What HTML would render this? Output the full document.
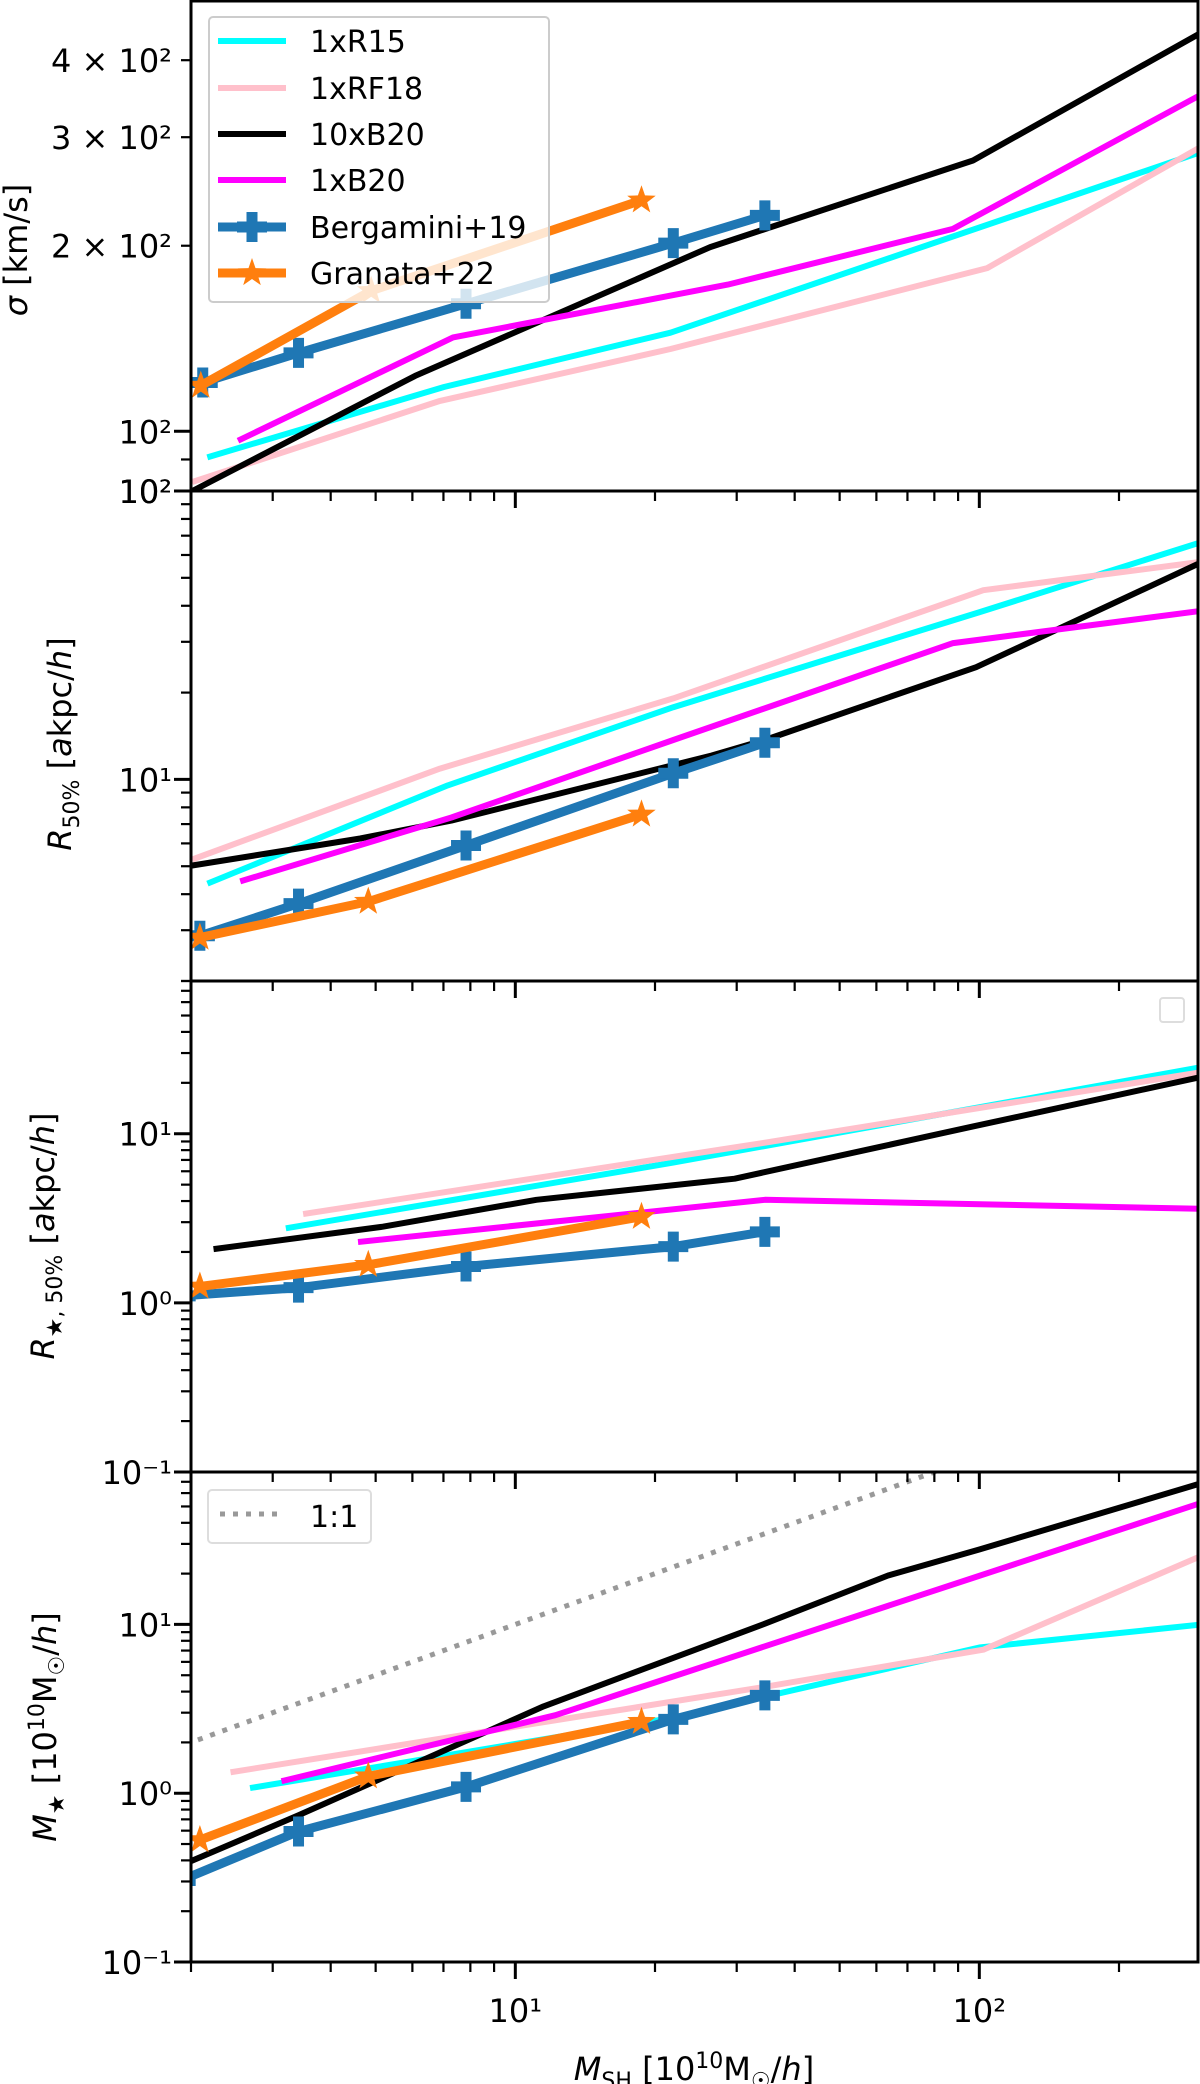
<!DOCTYPE html>
<html><head><meta charset="utf-8"><style>
html,body{margin:0;padding:0;background:#fff;}
svg{display:block;font-family:"DejaVu Sans","Liberation Sans",sans-serif;}
</style></head><body>
<svg id="chart" width="1200" height="2084" viewBox="0 0 1200 2084" xmlns="http://www.w3.org/2000/svg">
<defs>
<clipPath id="c0"><rect x="191" y="1" width="1008" height="490"/></clipPath>
<clipPath id="c1"><rect x="191" y="491" width="1008" height="490"/></clipPath>
<clipPath id="c2"><rect x="191" y="981" width="1008" height="491"/></clipPath>
<clipPath id="c3"><rect x="191" y="1472" width="1008" height="490"/></clipPath>
</defs>
<g id="marks"></g>
<g id="axes"></g>
<g id="legends"></g>
</svg>
<script>
// ---- data (x = M_SH) ----
const seriesNames = ["1xR15","1xRF18","10xB20","1xB20","Bergamini+19","Granata+22"];
const xTickLabels = ["10\u00b9","10\u00b2"];
const xTickValues = [10,100];
// panel 1: sigma
const p1_R15_x=[2.20,7.02,21.6,297];              const p1_R15_y=[91,118,144.5,283];
const p1_RF18_x=[2.04,6.88,21.6,104,297];         const p1_RF18_y=[83,112,136,184,288];
const p1_B20x10_x=[2.0,6.08,26.3,96.9,297];       const p1_B20x10_y=[79.8,123,199,275,441];
const p1_B20_x=[2.56,7.34,28.7,87.7,297];         const p1_B20_y=[97,142,173,213,350];
const p1_Berg_x=[2.12,3.41,7.83,21.9,34.5];       const p1_Berg_y=[120,134,161,202,224];
const p1_Gran_x=[2.10,4.89,18.7];                 const p1_Gran_y=[118.6,169,237];
// panel 2: R50%
const p2_R15_x=[2.2,7.15,21.9,100,297];           const p2_R15_y=[4.39,9.53,17.8,38,66];
const p2_RF18_x=[2.04,6.88,21.9,102,297];         const p2_RF18_y=[5.32,10.9,19.1,45.3,56.7];
const p2_B20x10_x=[2.0,4.63,7.28,26.5,34.5,98.4,297]; const p2_B20x10_y=[5.02,6.24,7.2,12.1,13.7,24.5,56];
const p2_B20_x=[2.59,7.28,21.9,87.8,297];         const p2_B20_y=[4.46,7.38,13.7,29.7,38.3];
const p2_Berg_x=[2.09,3.41,7.83,21.9,34.5];       const p2_Berg_y=[2.87,3.71,5.9,10.5,13.4];
const p2_Gran_x=[2.09,4.82,18.7];                 const p2_Gran_y=[2.83,3.77,7.56];
// panel 3: R*,50%
const p3_R15_x=[3.25,21.9,297];                   const p3_R15_y=[2.78,6.75,24.6];
const p3_RF18_x=[3.54,34.5,297];                  const p3_RF18_y=[3.37,8.85,23.0];
const p3_B20x10_x=[2.27,5.18,11.1,29.7,96.4,297]; const p3_B20x10_y=[2.09,2.82,4.07,5.42,11.0,21.5];
const p3_B20_x=[4.65,34.5,297];                   const p3_B20_y=[2.30,4.07,3.60];
const p3_Berg_x=[1.9,3.41,7.83,21.9,34.5];        const p3_Berg_y=[1.10,1.23,1.64,2.15,2.63];
const p3_Gran_x=[2.09,4.82,18.7];                 const p3_Gran_y=[1.25,1.68,3.23];
// panel 4: M*
const p4_R15_x=[2.72,21.9,100,297];               const p4_R15_y=[1.08,2.8,7.3,9.95];
const p4_RF18_x=[2.47,34.5,102,297];              const p4_RF18_y=[1.34,4.27,7.08,25.1];
const p4_B20x10_x=[2.0,3.41,11.5,34.5,63.6,100,297]; const p4_B20x10_y=[0.396,0.74,3.27,10.1,19.5,27.8,67.9];
const p4_B20_x=[3.18,12.2,297];                   const p4_B20_y=[1.19,2.9,51.9];
const p4_Berg_x=[1.9,3.41,7.83,21.9,34.5];        const p4_Berg_y=[0.304,0.593,1.09,2.74,3.8];
const p4_Gran_x=[2.09,4.82,18.7];                 const p4_Gran_y=[0.528,1.26,2.65];
const oneToOne_x=[1,1000];                        const oneToOne_y=[1,1000];

const NS="http://www.w3.org/2000/svg";
const XL=191, XR=1198, XMIN=2, XMAX=296;
function xs(v){return XL+(Math.log10(v)-Math.log10(XMIN))/(Math.log10(XMAX)-Math.log10(XMIN))*(XR-XL);}
const panels=[
 {top:1,bottom:491,ymin:80,ymax:499},
 {top:491,bottom:981,ymin:2,ymax:100},
 {top:981,bottom:1472,ymin:0.1,ymax:80},
 {top:1472,bottom:1962,ymin:0.1,ymax:80}
];
function ys(p,v){return p.bottom-(Math.log10(v)-Math.log10(p.ymin))/(Math.log10(p.ymax)-Math.log10(p.ymin))*(p.bottom-p.top);}
function mk(tag,attrs,parent){const e=document.createElementNS(NS,tag);for(const k in attrs)e.setAttribute(k,attrs[k]);parent.appendChild(e);return e;}

const marks=document.getElementById('marks');
const axes=document.getElementById('axes');
const legends=document.getElementById('legends');
const sty={
 R15:{c:'#00ffff',w:6},RF18:{c:'#ffc0cb',w:6},B20x10:{c:'#000000',w:6},B20:{c:'#ff00ff',w:6},
 Berg:{c:'#1f77b4',w:9,m:'plus'},Gran:{c:'#ff7f0e',w:9,m:'star'}
};
const data=[
 {R15:[p1_R15_x,p1_R15_y],RF18:[p1_RF18_x,p1_RF18_y],B20x10:[p1_B20x10_x,p1_B20x10_y],B20:[p1_B20_x,p1_B20_y],Berg:[p1_Berg_x,p1_Berg_y],Gran:[p1_Gran_x,p1_Gran_y]},
 {R15:[p2_R15_x,p2_R15_y],RF18:[p2_RF18_x,p2_RF18_y],B20x10:[p2_B20x10_x,p2_B20x10_y],B20:[p2_B20_x,p2_B20_y],Berg:[p2_Berg_x,p2_Berg_y],Gran:[p2_Gran_x,p2_Gran_y]},
 {R15:[p3_R15_x,p3_R15_y],RF18:[p3_RF18_x,p3_RF18_y],B20x10:[p3_B20x10_x,p3_B20x10_y],B20:[p3_B20_x,p3_B20_y],Berg:[p3_Berg_x,p3_Berg_y],Gran:[p3_Gran_x,p3_Gran_y]},
 {R15:[p4_R15_x,p4_R15_y],RF18:[p4_RF18_x,p4_RF18_y],B20x10:[p4_B20x10_x,p4_B20x10_y],B20:[p4_B20_x,p4_B20_y],Berg:[p4_Berg_x,p4_Berg_y],Gran:[p4_Gran_x,p4_Gran_y]}
];
function plusPath(cx,cy){const a=15,b=5.5;return `M${cx-b},${cy-a}H${cx+b}V${cy-b}H${cx+a}V${cy+b}H${cx+b}V${cy+a}H${cx-b}V${cy+b}H${cx-a}V${cy-b}H${cx-b}Z`;}
function starPath(cx,cy){let d='';for(let i=0;i<10;i++){const r=i%2?6:15;const an=-Math.PI/2+i*Math.PI/5;d+=(i?'L':'M')+(cx+r*Math.cos(an)).toFixed(1)+','+(cy+r*Math.sin(an)).toFixed(1);}return d+'Z';}

panels.forEach((p,i)=>{
 const g=mk('g',{'clip-path':`url(#c${i})`},marks);
 
 
 if(i===3){
  const pts=oneToOne_x.map((x,k)=>xs(x)+','+ys(p,oneToOne_y[k])).join(' ');
  const l=mk('polyline',{points:pts,fill:'none',stroke:'#999','stroke-width':5,'stroke-dasharray':'5 8'},g);
  
  
 }
 ['R15','RF18','B20x10','B20','Berg','Gran'].forEach(k=>{
  const [xa,ya]=data[i][k];const s=sty[k];
  const pts=xa.map((x,j)=>xs(x).toFixed(1)+','+ys(p,ya[j]).toFixed(1)).join(' ');
  const l=mk('polyline',{points:pts,fill:'none',stroke:s.c,'stroke-width':s.w,'stroke-linejoin':'round','stroke-linecap':'square'},g);
  
  
  if(s.m){xa.forEach((x,j)=>{
   const cx=xs(x),cy=ys(p,ya[j]);
   const m=mk('path',{d:s.m==='plus'?plusPath(cx,cy):starPath(cx,cy),fill:s.c},g);
   
   
  });}
 });
 // frame
 const f=mk('rect',{x:XL,y:p.top,width:XR-XL,height:p.bottom-p.top,fill:'none',stroke:'#000','stroke-width':3},axes);
 
 
 // x ticks
 [2,3,4,5,6,7,8,9,10,20,30,40,50,60,70,80,90,100,200].forEach(v=>{
  const major=(v===10||v===100);const x=xs(v);
  const t=mk('line',{x1:x,x2:x,y1:p.bottom,y2:p.bottom+(major?17:10),stroke:'#000','stroke-width':major?3:2.2},axes);
  
  
 });
 // y ticks
 const lo=Math.floor(Math.log10(p.ymin)),hi=Math.ceil(Math.log10(p.ymax));
 for(let e=lo;e<=hi;e++){for(let m=1;m<10;m++){const v=m*Math.pow(10,e);
  if(v<p.ymin*0.999||v>p.ymax*1.001)continue;const y=ys(p,v);
  const t=mk('line',{x1:XL,x2:XL-(m===1?17:10),y1:y,y2:y,stroke:'#000','stroke-width':m===1?3:2.2},axes);
  
  
 }}
});

// x tick labels
xTickValues.forEach((v,k)=>{
 const t=mk('text',{x:xs(v),y:2022,'text-anchor':'middle','font-size':32},axes);
 t.textContent=xTickLabels[k];
 
 
});
// y tick labels
const yTickLabelsP1=["4 \u00d7 10\u00b2","3 \u00d7 10\u00b2","2 \u00d7 10\u00b2","10\u00b2","10\u00b2"];
const yTickValuesP1=[400,300,200,100,80];
const yTickLabelsP2=["10\u00b2","10\u00b9"];const yTickValuesP2=[100,10];
const yTickLabelsP34=["10\u00b9","10\u2070","10\u207b\u00b9"];const yTickValuesP34=[10,1,0.1];
function yLabels(p,vals,labs){vals.forEach((v,k)=>{
 const t=mk('text',{x:172,y:ys(p,v)+12,'text-anchor':'end','font-size':32},axes);
 t.textContent=labs[k];
 
 
});}
yLabels(panels[0],yTickValuesP1,yTickLabelsP1);
yLabels(panels[1],yTickValuesP2,yTickLabelsP2);
yLabels(panels[2],yTickValuesP34,yTickLabelsP34);
yLabels(panels[3],yTickValuesP34.slice(0,2),yTickLabelsP34.slice(0,2));
yLabels({bottom:1962,top:1472,ymin:0.1,ymax:80},[0.1],["10\u207b\u00b9"]);
</script>
<g>
</g>
<script>
// axis titles and legends (static)
(function(){
const svg=document.getElementById('chart');
svg.insertAdjacentHTML('beforeend',`
<text transform="translate(27,250) rotate(-90)" text-anchor="middle" font-size="32"><tspan font-style="italic">σ</tspan> [km/s]</text>
<text transform="translate(71,744) rotate(-90)" text-anchor="middle" font-size="32"><tspan font-style="italic">R</tspan><tspan font-size="22" dy="8">50%</tspan><tspan dy="-8"> [</tspan><tspan font-style="italic">a</tspan>kpc/<tspan font-style="italic">h</tspan>]</text>
<text transform="translate(54,1236) rotate(-90)" text-anchor="middle" font-size="32"><tspan font-style="italic">R</tspan><tspan font-size="22" dy="8">★, 50%</tspan><tspan dy="-8"> [</tspan><tspan font-style="italic">a</tspan>kpc/<tspan font-style="italic">h</tspan>]</text>
<text transform="translate(56,1727) rotate(-90)" text-anchor="middle" font-size="32"><tspan font-style="italic">M</tspan><tspan font-size="22" dy="8">★</tspan><tspan dy="-8"> [10</tspan><tspan font-size="22" dy="-12">10</tspan><tspan dy="12">M</tspan><tspan font-size="22" dy="8">☉</tspan><tspan dy="-8">/</tspan><tspan font-style="italic">h</tspan>]</text>
<text x="694" y="2080" text-anchor="middle" font-size="32"><tspan font-style="italic">M</tspan><tspan font-size="22" dy="8">SH</tspan><tspan dy="-8"> [10</tspan><tspan font-size="22" dy="-12">10</tspan><tspan dy="12">M</tspan><tspan font-size="22" dy="8">☉</tspan><tspan dy="-8">/</tspan><tspan font-style="italic">h</tspan>]</text>
<g>
 <rect x="209" y="17" width="340" height="285" rx="4" fill="#fff" fill-opacity="0.8" stroke="#ccc" stroke-width="2"/>
 <g><line x1="218" x2="286" y1="41" y2="41" stroke="#00ffff" stroke-width="6"/><text x="310" y="52" font-size="30">1xR15</text></g>
 <g><line x1="218" x2="286" y1="88" y2="88" stroke="#ffc0cb" stroke-width="6"/><text x="310" y="99" font-size="30">1xRF18</text></g>
 <g><line x1="218" x2="286" y1="134" y2="134" stroke="#000" stroke-width="6"/><text x="310" y="145" font-size="30">10xB20</text></g>
 <g><line x1="218" x2="286" y1="180" y2="180" stroke="#ff00ff" stroke-width="6"/><text x="310" y="191" font-size="30">1xB20</text></g>
 <g><line x1="218" x2="286" y1="227" y2="227" stroke="#1f77b4" stroke-width="9"/><path d="M246.5,212H257.5V221.5H267V232.5H257.5V242H246.5V232.5H237V221.5H246.5Z" fill="#1f77b4"/><text x="310" y="238" font-size="30">Bergamini+19</text></g>
 <g><line x1="218" x2="286" y1="273" y2="273" stroke="#ff7f0e" stroke-width="9"/><path d="M252,258L255.5,268.1L266.3,268.4L257.7,274.9L260.8,285.1L252,279L243.2,285.1L246.3,274.9L237.7,268.4L248.5,268.1Z" fill="#ff7f0e"/><text x="310" y="284" font-size="30">Granata+22</text></g>
</g>
<rect x="1160" y="998" width="24" height="24" rx="3" fill="#fff" stroke="#ddd" stroke-width="2"/>
<g>
 <rect x="208" y="1490" width="163" height="53" rx="4" fill="#fff" fill-opacity="0.8" stroke="#ddd" stroke-width="2"/>
 <line x1="220" x2="282" y1="1514" y2="1514" stroke="#999" stroke-width="5" stroke-dasharray="5 8"/>
 <text x="310" y="1527" font-size="30">1:1</text>
</g>`);
})();
</script>
</body></html>
